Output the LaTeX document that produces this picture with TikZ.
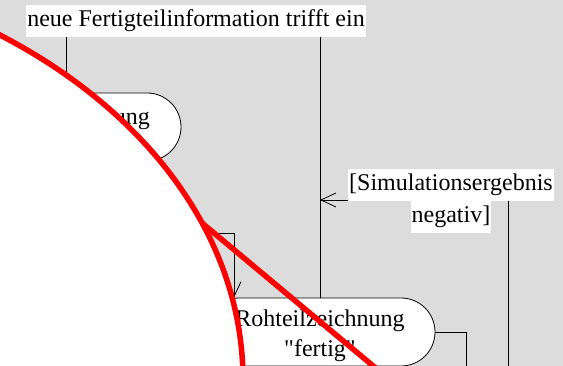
\documentclass[tikz,border=0pt]{standalone}
\usepackage{fontspec}
\setmainfont{Liberation Serif}
\usetikzlibrary{arrows.meta}
\definecolor{panelgray}{RGB}{220,220,220}
\setlength\fboxsep{1pt}
\newcommand\whitebox[1]{\colorbox{white}{\rule[-9pt]{0pt}{30pt}#1}}
\newcommand\toprule{\rule{0pt}{25pt}}

\begin{document}
\begin{tikzpicture}[
  x=1pt, y=-1pt,
  action/.style={
    draw,
    rounded corners=34pt,
    align=center,
    font=\fontsize{24}{30}\selectfont,
    minimum width=230pt,
    minimum height=68pt,
    fill=white,
    line width=0.8pt
  },
  guard/.style={inner sep=0pt, align=center, font=\fontsize{24}{32}\selectfont},
  flow/.style={draw, line width=0.8pt, -{Straight Barb[length=15pt,width=14pt]}},
  plain/.style={draw, line width=0.8pt}
]
\useasboundingbox (0,0) rectangle (563,366);
\clip (0,0) rectangle (563,366);
\fill[panelgray] (0,0) rectangle (563,366);

\node[guard] (trigger) at (196,21) {\whitebox{neue Fertigteilinformation trifft ein}};
\node[action, text width=168pt, align=right] (ungbox) at (66,127) {\toprule ung\\~};
\node[action] (rohteil) at (320,332) {\toprule Rohteilzeichnung\\\textquotedbl fertig\textquotedbl};

\coordinate (bend) at (234,233);
\coordinate (simsrc) at (508,380);
\coordinate (outsrc) at (466,380);
\coordinate (merge) at (320,200);

\draw[flow] (trigger.south -| ungbox.north) -- (ungbox.north);
\draw[plain] (trigger.south -| rohteil.north) -- (rohteil.north);
\draw[flow] (ungbox) |- (bend) -- (bend |- rohteil.north);
\draw[plain] (rohteil.east) -| (outsrc);
\draw[flow] (simsrc) |- (merge);

\node[guard] (simlabel) at (451,201) {\whitebox{[Simulationsergebnis}\\\whitebox{negativ]}};

% Durchstreichung
\draw[red, line width=5.5pt, fill=white] (-323,380) ellipse [x radius=566pt, y radius=420pt];
\draw[red, line width=5.5pt] (202,223) -- (390,380);
\end{tikzpicture}
\end{document}
